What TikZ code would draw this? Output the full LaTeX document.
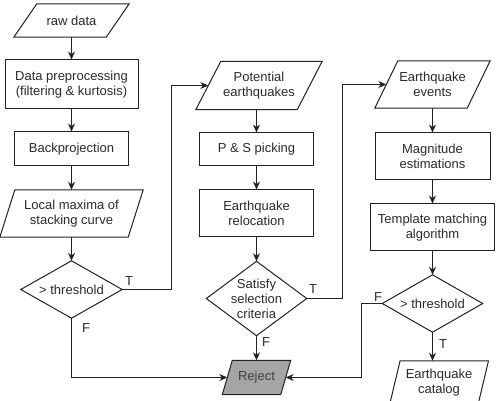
\documentclass[tikz,border=0pt]{standalone}
\usepackage{fontspec}
\setmainfont{Liberation Sans}
\usetikzlibrary{arrows.meta,backgrounds,calc}
\definecolor{linec}{HTML}{222222}
\definecolor{txtc}{HTML}{2A2A2A}
\definecolor{rejfill}{HTML}{A5A5A5}
\newcommand\parashape[3]{% #1 fill, #2 node, #3 half skew
  \path[ln, fill=#1] ([xshift=-#3pt]#2.south west) -- ([xshift=-#3pt]#2.south east)
    -- ([xshift=#3pt]#2.north east) -- ([xshift=#3pt]#2.north west) -- cycle;}
\newcommand\diashape[1]{%
  \path[ln, fill=white] (#1.north) -- (#1.east) -- (#1.south) -- (#1.west) -- cycle;}
\tikzset{
  txt/.style={font=\fontsize{13}{15}\selectfont, text=txtc},
  box/.style={txt, draw=linec, line width=1pt, inner sep=0pt, align=center, fill=white},
  ghost/.style={txt, inner sep=0pt, align=center},
  ln/.style={draw=linec, line width=1pt},
  arr/.style={ln, -{Stealth[length=8pt,width=7pt]}},
  lbl/.style={txt, inner sep=0pt},
}
\begin{document}
\begin{tikzpicture}[x=1pt,y=-1pt]
\useasboundingbox (0,0) rectangle (496,401);

% column 1
\node[ghost, minimum width=92pt, minimum height=33pt] (raw) at (71.5,20.5) {raw data};
\node[box, minimum width=133pt, minimum height=49pt] (prep) at (71.5,84.5) {Data preprocessing\\(filtering \& kurtosis)};
\node[box, minimum width=114pt, minimum height=34pt] (back) at (71.5,149) {Backprojection};
\node[ghost, minimum width=128pt, minimum height=47pt] (lmax) at (71.5,213.5) {Local maxima of\\stacking curve};
\node[ghost, minimum width=101pt, minimum height=57pt] (thr1) at (71.5,289.5) {> threshold};

% column 2
\node[ghost, minimum width=101pt, minimum height=48pt] (pot) at (259,85.5) {Potential\\earthquakes};
\node[box, minimum width=114pt, minimum height=33pt] (ps) at (256.5,149.5) {P \& S picking};
\node[box, minimum width=114pt, minimum height=47pt] (reloc) at (256.5,213.5) {Earthquake\\relocation};
\node[ghost, minimum width=100pt, minimum height=74pt] (sat) at (256.5,298.5) {Satisfy\\selection\\criteria};
\node[ghost, minimum width=58pt, minimum height=34pt, text=black!75] (rej) at (256.5,377.5) {Reject};

% column 3
\node[ghost, minimum width=92pt, minimum height=47pt] (ev) at (432.5,84.5) {Earthquake\\events};
\node[box, minimum width=115pt, minimum height=47pt] (mag) at (432.5,156.5) {Magnitude\\estimations};
\node[box, minimum width=124pt, minimum height=47pt] (tmpl) at (432.5,227.5) {Template matching\\algorithm};
\node[ghost, minimum width=100pt, minimum height=57pt] (thr3) at (432.5,303.5) {> threshold};
\node[ghost, minimum width=88pt, minimum height=44pt] (cat) at (439,383) {Earthquake\\catalog};

\begin{scope}[on background layer]
  \fill[white] (0,0) rectangle (496,401);
  \parashape{white}{raw}{11.5}
  \parashape{white}{lmax}{7.5}
  \diashape{thr1}
  \parashape{white}{pot}{12.5}
  \diashape{sat}
  \parashape{rejfill}{rej}{5}
  \parashape{white}{ev}{11.5}
  \diashape{thr3}
  \parashape{white}{cat}{5.3}
\end{scope}

% connectors
\draw[arr] (raw.south) -- (prep.north);
\draw[arr] (prep.south) -- (back.north);
\draw[arr] (back.south) -- (lmax.north);
\draw[arr] (lmax.south) -- (thr1.north);
\draw[arr] (thr1.east) -- ++(49.5,0) |- (pot.west);
\draw[arr] (thr1.south) |- (rej.west);

\draw[arr] (pot.south -| ps.north) -- (ps.north);
\draw[arr] (ps.south) -- (reloc.north);
\draw[arr] (reloc.south) -- (sat.north);
\draw[arr] (sat.east) -- ++(35.5,0) |- (ev.west);
\draw[arr] (sat.south) -- (rej.north);

\draw[arr] (ev.south) -- (mag.north);
\draw[arr] (mag.south) -- (tmpl.north);
\draw[arr] (tmpl.south) -- (thr3.north);
\draw[arr] (thr3.west) -- ++(-20.5,0) |- (rej.east);
\draw[arr] (thr3.south) -- (thr3.south |- cat.north);

% labels
\node[lbl] (t1) at (129,281) {T};
\node[lbl] (f1) at (86,328) {F};
\node[lbl] (t2) at (313,289) {T};
\node[lbl] (f2) at (266,342) {F};
\node[lbl] (f3) at (378,297) {F};
\node[lbl] (t3) at (443,344) {T};
\end{tikzpicture}
\end{document}
